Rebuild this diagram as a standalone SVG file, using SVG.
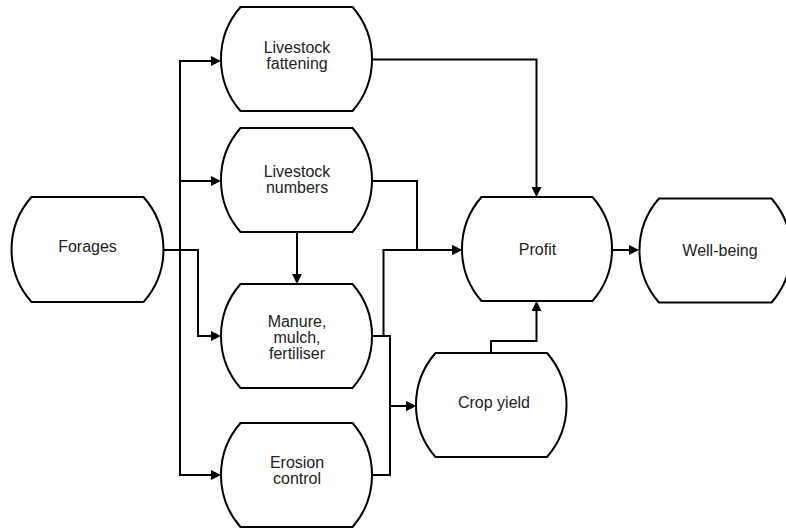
<svg xmlns="http://www.w3.org/2000/svg" width="786" height="529" viewBox="0 0 786 529">
<style>
.node{fill:#fff;stroke:#000;stroke-width:2}
.lbl{font-family:"Liberation Sans",Arial,sans-serif;font-size:16px;fill:#222;text-anchor:middle}
.edge{fill:none;stroke:#000;stroke-width:2;marker-end:url(#arr)}
</style>
<defs>
<marker id="arr" viewBox="0 0 10 10" markerWidth="10" markerHeight="10" refX="8" refY="5" orient="auto" markerUnits="userSpaceOnUse">
<path d="M0,0 L10,5 L0,10 z" fill="#000"/>
</marker>
</defs>
<rect width="786" height="529" fill="#fff"/>
<g id="connectors">
<path class="edge" d="M163,250 H180 V61 H219"/>
<path class="edge" d="M163,250 H180 V181 H219"/>
<path class="edge" d="M163,250 H180 V475 H219"/>
<path class="edge" d="M163,250 H198 V336 H219"/>
<path class="edge" d="M297,232 V282"/>
<path class="edge" d="M372,59.5 H536.5 V195"/>
<path class="edge" d="M372,181 H417 V250 H460"/>
<path class="edge" d="M372,336 H383.5 V250 H460"/>
<path class="edge" d="M372,336 H390 V406 H414"/>
<path class="edge" d="M372,475 H390 V406 H414"/>
<path class="edge" d="M491,353 V341 H536.5 V303"/>
<path class="edge" d="M612,250 H637"/>
</g>
<g id="forages">
<path class="node" d="M31.5,197 H143.5 A79,79 0 0 1 143.5,302 H31.5 A79,79 0 0 1 31.5,197 Z"/>
<text class="lbl" x="87.5" y="252.3">Forages</text>
</g>
<g id="livestock-fattening">
<path class="node" d="M240.5,7 H352.5 A79,79 0 0 1 352.5,111 H240.5 A79,79 0 0 1 240.5,7 Z"/>
<text class="lbl" x="297" y="53.3">Livestock</text>
<text class="lbl" x="297" y="69">fattening</text>
</g>
<g id="livestock-numbers">
<path class="node" d="M240.5,128 H352.5 A79,79 0 0 1 352.5,232 H240.5 A79,79 0 0 1 240.5,128 Z"/>
<text class="lbl" x="297" y="177.3">Livestock</text>
<text class="lbl" x="297" y="193.3">numbers</text>
</g>
<g id="manure">
<path class="node" d="M240.5,284 H352.5 A79,79 0 0 1 352.5,388 H240.5 A79,79 0 0 1 240.5,284 Z"/>
<text class="lbl" x="297" y="327.3">Manure,</text>
<text class="lbl" x="297" y="343.3">mulch,</text>
<text class="lbl" x="297" y="359">fertiliser</text>
</g>
<g id="erosion-control">
<path class="node" d="M240.5,423 H352.5 A79,79 0 0 1 352.5,527 H240.5 A79,79 0 0 1 240.5,423 Z"/>
<text class="lbl" x="297" y="468.3">Erosion</text>
<text class="lbl" x="297" y="484">control</text>
</g>
<g id="profit">
<path class="node" d="M481.5,197 H592.5 A79,79 0 0 1 592.5,301 H481.5 A79,79 0 0 1 481.5,197 Z"/>
<text class="lbl" x="537.5" y="255">Profit</text>
</g>
<g id="crop-yield">
<path class="node" d="M435.5,353 H547 A79,79 0 0 1 547,457 H435.5 A79,79 0 0 1 435.5,353 Z"/>
<text class="lbl" x="494" y="408.3">Crop yield</text>
</g>
<g id="well-being">
<path class="node" d="M659,198.5 H771.5 A79,79 0 0 1 771.5,302.5 H659 A79,79 0 0 1 659,198.5 Z"/>
<text class="lbl" x="720" y="255.5">Well-being</text>
</g>
</svg>
